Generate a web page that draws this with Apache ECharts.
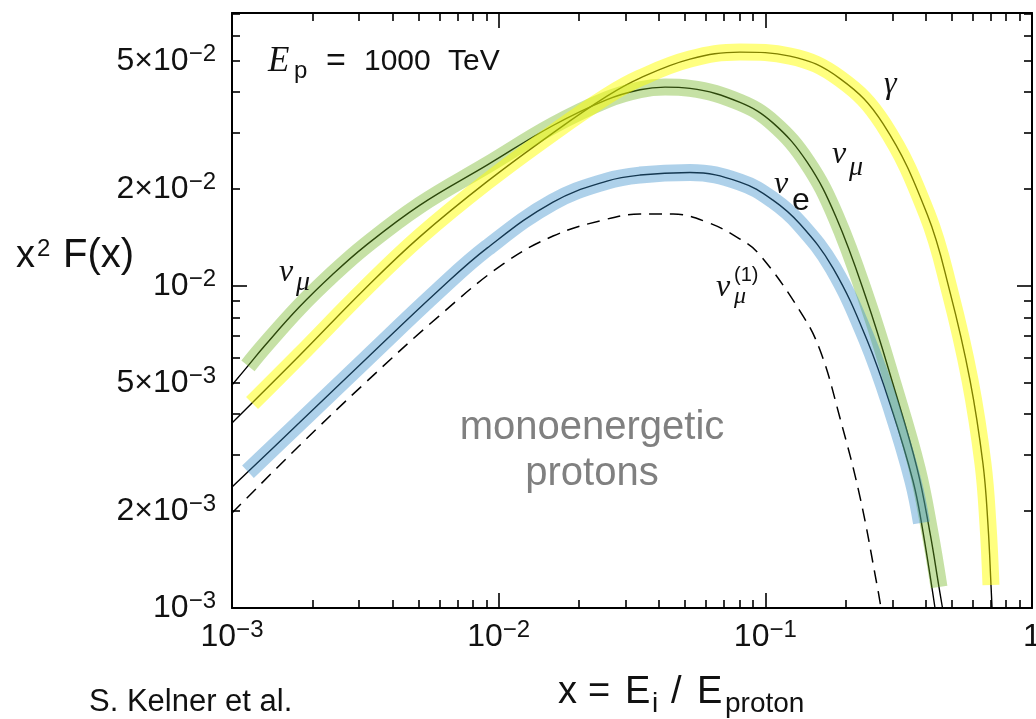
<!DOCTYPE html>
<html>
<head>
<meta charset="utf-8">
<script src="https://cdn.jsdelivr.net/npm/echarts@6/dist/echarts.min.js"></script>
<style>
  html, body { margin: 0; padding: 0; background: #fff; }
  #chart { width: 1036px; height: 719px; }
</style>
</head>
<body>
<div id="chart"></div>
<script>
// x^2 F(x) spectra of secondaries from monoenergetic protons, E_p = 1000 TeV

// gamma rays
const gammaX = [0.001, 0.001189, 0.001784, 0.003153, 0.00507, 0.009042, 0.01599, 0.02548, 0.03388, 0.05218, 0.08035, 0.1237, 0.1905, 0.2762, 0.4039, 0.4926, 0.5854, 0.6551, 0.6839, 0.7018, 0.714];
const gammaY = [0.003753, 0.004331, 0.006062, 0.009808, 0.01424, 0.0211, 0.02991, 0.03889, 0.04426, 0.0507, 0.0533, 0.0518, 0.0441, 0.03194, 0.01676, 0.00958, 0.005106, 0.002801, 0.00181, 0.001179, 0.0008546];
const gammaBand = [0.001189, 0.7018];

// muon neutrinos (total)
const nuMuX = [0.001, 0.001148, 0.001329, 0.001784, 0.002371, 0.003153, 0.00507, 0.009042, 0.01599, 0.02548, 0.03388, 0.04205, 0.05218, 0.08035, 0.1068, 0.1433, 0.1841, 0.2406, 0.3011, 0.3705, 0.4145, 0.4479, 0.4617];
const nuMuY = [0.004926, 0.005652, 0.006539, 0.008588, 0.01082, 0.01331, 0.01785, 0.02375, 0.03153, 0.03795, 0.04073, 0.0415, 0.04111, 0.03719, 0.03213, 0.02429, 0.01638, 0.009001, 0.004962, 0.002721, 0.00171, 0.001162, 0.001];
const nuMuBand = [0.001148, 0.4479];

// electron neutrinos
const nuEX = [0.001, 0.001148, 0.001784, 0.003153, 0.005973, 0.009042, 0.01599, 0.02548, 0.03388, 0.05218, 0.08035, 0.1068, 0.1349, 0.1794, 0.2406, 0.3011, 0.3579, 0.3851, 0.4328];
const nuEY = [0.002375, 0.00265, 0.003753, 0.005891, 0.009718, 0.01312, 0.01824, 0.02119, 0.02212, 0.02252, 0.02104, 0.01849, 0.01558, 0.01137, 0.006797, 0.004033, 0.00248, 0.001837, 0.001];
const nuEBand = [0.001148, 0.3851];

// muon neutrinos from direct pion decay
const nuMu1X = [0.001, 0.001784, 0.003153, 0.005973, 0.01038, 0.01599, 0.02462, 0.03388, 0.04506, 0.06042, 0.08035, 0.0955, 0.1349, 0.1603, 0.1905, 0.2265, 0.2623, 0.2715];
const nuMu1Y = [0.001972, 0.003185, 0.004997, 0.008068, 0.0117, 0.0143, 0.01603, 0.01673, 0.01673, 0.0158, 0.014, 0.01248, 0.008364, 0.006329, 0.003892, 0.002211, 0.001179, 0.001];

// axes
const xRange = [0.001, 1];
const yRange = [0.001, 0.0705];
const xMajorTicks = [0.001, 0.01, 0.1, 1];
const xLabelValues = [0.001, 0.01, 0.1, 1];
const yMajorTicks = [0.001, 0.01];
const yLabelValues = [0.001, 0.002, 0.005, 0.01, 0.02, 0.05];
const mantissas = [2, 3, 4, 5, 6, 7, 8, 9];

const SANS = '"Liberation Sans", Arial, Helvetica, sans-serif';
const SERIF = '"Liberation Serif", "Times New Roman", serif';
const INK = '#111';

const lg = Math.log10;
const minorTicks = (lo, hi) => {
  const out = [];
  for (let d = Math.floor(lg(lo)); d < Math.ceil(lg(hi)); d++) {
    mantissas.forEach(m => { const v = m * Math.pow(10, d); if (v > lo && v < hi) out.push(v); });
  }
  return out;
};
const xMinorTicks = minorTicks(xRange[0], xRange[1]);
const yMinorTicks = minorTicks(yRange[0], yRange[1]);

const toPts = (xs, ys) => xs.map((x, i) => [lg(x), lg(ys[i])]);
const bandPts = (xs, ys, band) =>
  toPts(xs, ys).filter((p, i) => xs[i] >= band[0] * 0.9999 && xs[i] <= band[1] * 1.0001);

// "m×10^e" tick text, value given in decades
function powerLabel(v) {
  const e = Math.floor(v + 1e-6);
  const m = Math.round(Math.pow(10, v - e));
  if (e === 0 && m === 1) return '{b|1}';
  return '{b|' + (m > 1 ? m + '×' : '') + '10}{s|−' + (-e) + '}';
}
const labelRich = {
  b: { fontFamily: SANS, fontSize: 32, lineHeight: 38, color: INK, verticalAlign: 'middle' },
  s: { fontFamily: SANS, fontSize: 24, lineHeight: 20, color: INK, verticalAlign: 'top' }
};

function makeAxis(range, position, ticks, len, withLine, labels, margin) {
  return {
    type: 'value',
    position: position,
    min: lg(range[0]),
    max: lg(range[1]),
    splitLine: { show: false },
    axisLine: { show: withLine, onZero: false, lineStyle: { color: '#000', width: 2 } },
    axisTick: {
      show: true, inside: true, length: len,
      customValues: ticks.map(lg),
      lineStyle: { color: '#000', width: 1.6 }
    },
    axisLabel: labels ? {
      show: true, margin: margin,
      customValues: labels.map(lg),
      formatter: powerLabel,
      rich: labelRich
    } : { show: false }
  };
}

const xAxes = [
  makeAxis(xRange, 'bottom', xMajorTicks, 15, true, xLabelValues, 10),
  makeAxis(xRange, 'bottom', xMinorTicks, 8, false, null),
  makeAxis(xRange, 'top', xMajorTicks, 15, true, null),
  makeAxis(xRange, 'top', xMinorTicks, 8, false, null)
];
const yAxes = [
  makeAxis(yRange, 'left', yMajorTicks, 15, true, yLabelValues, 16),
  makeAxis(yRange, 'left', yMinorTicks, 8, false, null),
  makeAxis(yRange, 'right', yMajorTicks, 15, true, null),
  makeAxis(yRange, 'right', yMinorTicks, 8, false, null)
];

function thinLine(name, xs, ys, dashed) {
  return {
    name: name, type: 'line', data: toPts(xs, ys),
    showSymbol: false, symbol: 'none', smooth: 0.4, z: 3,
    lineStyle: { color: '#000', width: dashed ? 1.5 : 1.4, type: dashed ? [13, 8] : 'solid' }
  };
}
function band(name, xs, ys, range, color) {
  return {
    name: name + ' band', type: 'line', data: bandPts(xs, ys, range),
    showSymbol: false, symbol: 'none', smooth: 0.4, z: 4,
    lineStyle: { color: color, width: 17, cap: 'butt' }
  };
}

function txt(x, y, text, font, color, align) {
  return {
    type: 'text', silent: true, z: 100, x: x, y: y,
    style: { text: text, font: font, fill: color || INK, textAlign: align || 'left', textVerticalAlign: 'middle', verticalAlign: 'middle' }
  };
}

const graphics = [
  // y-axis title
  txt(16, 257, 'x', '38px ' + SANS),
  txt(37, 249, '2', '24px ' + SANS),
  txt(63, 256, 'F(x)', '40px ' + SANS),
  // x-axis title
  txt(558, 693, 'x', '38px ' + SANS),
  txt(588, 693, '=', '38px ' + SANS),
  txt(625, 693, 'E', '38px ' + SANS),
  txt(652, 704, 'i', '28px ' + SANS),
  txt(671, 693, '/', '38px ' + SANS),
  txt(697, 693, 'E', '38px ' + SANS),
  txt(725, 704, 'proton', '28px ' + SANS),
  // credit
  txt(89, 702, 'S. Kelner et al.', '31px ' + SANS),
  // energy
  txt(268, 62, 'E', 'italic 35px ' + SERIF),
  txt(294, 71, 'p', '24px ' + SANS),
  txt(326, 62, '=', '34px ' + SANS),
  txt(364, 61.6, '1000', '30px ' + SANS),
  txt(448, 61.6, 'TeV', '30px ' + SANS),
  // note
  txt(592, 428.4, 'monoenergetic', '40px ' + SANS, '#808080', 'center'),
  txt(592, 474.4, 'protons', '40px ' + SANS, '#808080', 'center'),
  // curve names
  txt(279, 272.2, 'ν', 'italic 32px ' + SERIF),
  txt(296, 282.5, 'μ', 'italic 28px ' + SERIF),
  txt(884, 84.2, 'γ', 'italic 32px ' + SERIF),
  txt(832, 154.2, 'ν', 'italic 32px ' + SERIF),
  txt(849, 167.5, 'μ', 'italic 28px ' + SERIF),
  txt(774, 184.2, 'ν', 'italic 32px ' + SERIF),
  txt(792, 201, 'e', '32px ' + SANS),
  txt(716, 287.2, 'ν', 'italic 32px ' + SERIF),
  txt(734, 275, '(1)', '20px ' + SANS),
  txt(734, 297, 'μ', 'italic 24px ' + SERIF)
];

const chart = echarts.init(document.getElementById('chart'), null, { renderer: 'canvas' });
chart.setOption({
  animation: false,
  backgroundColor: '#fff',
  grid: { left: 232, right: 4, top: 13, bottom: 111, containLabel: false, outerBoundsMode: 'none' },
  xAxis: xAxes,
  yAxis: yAxes,
  series: [
    thinLine('nu_mu', nuMuX, nuMuY, false),
    thinLine('gamma', gammaX, gammaY, false),
    thinLine('nu_e', nuEX, nuEY, false),
    thinLine('nu_mu(1)', nuMu1X, nuMu1Y, true),
    band('nu_mu', nuMuX, nuMuY, nuMuBand, 'rgba(112,180,30,0.4)'),
    band('gamma', gammaX, gammaY, gammaBand, 'rgba(255,255,0,0.5)'),
    band('nu_e', nuEX, nuEY, nuEBand, 'rgba(52,140,202,0.4)')
  ],
  graphic: graphics
});
</script>
</body>
</html>
